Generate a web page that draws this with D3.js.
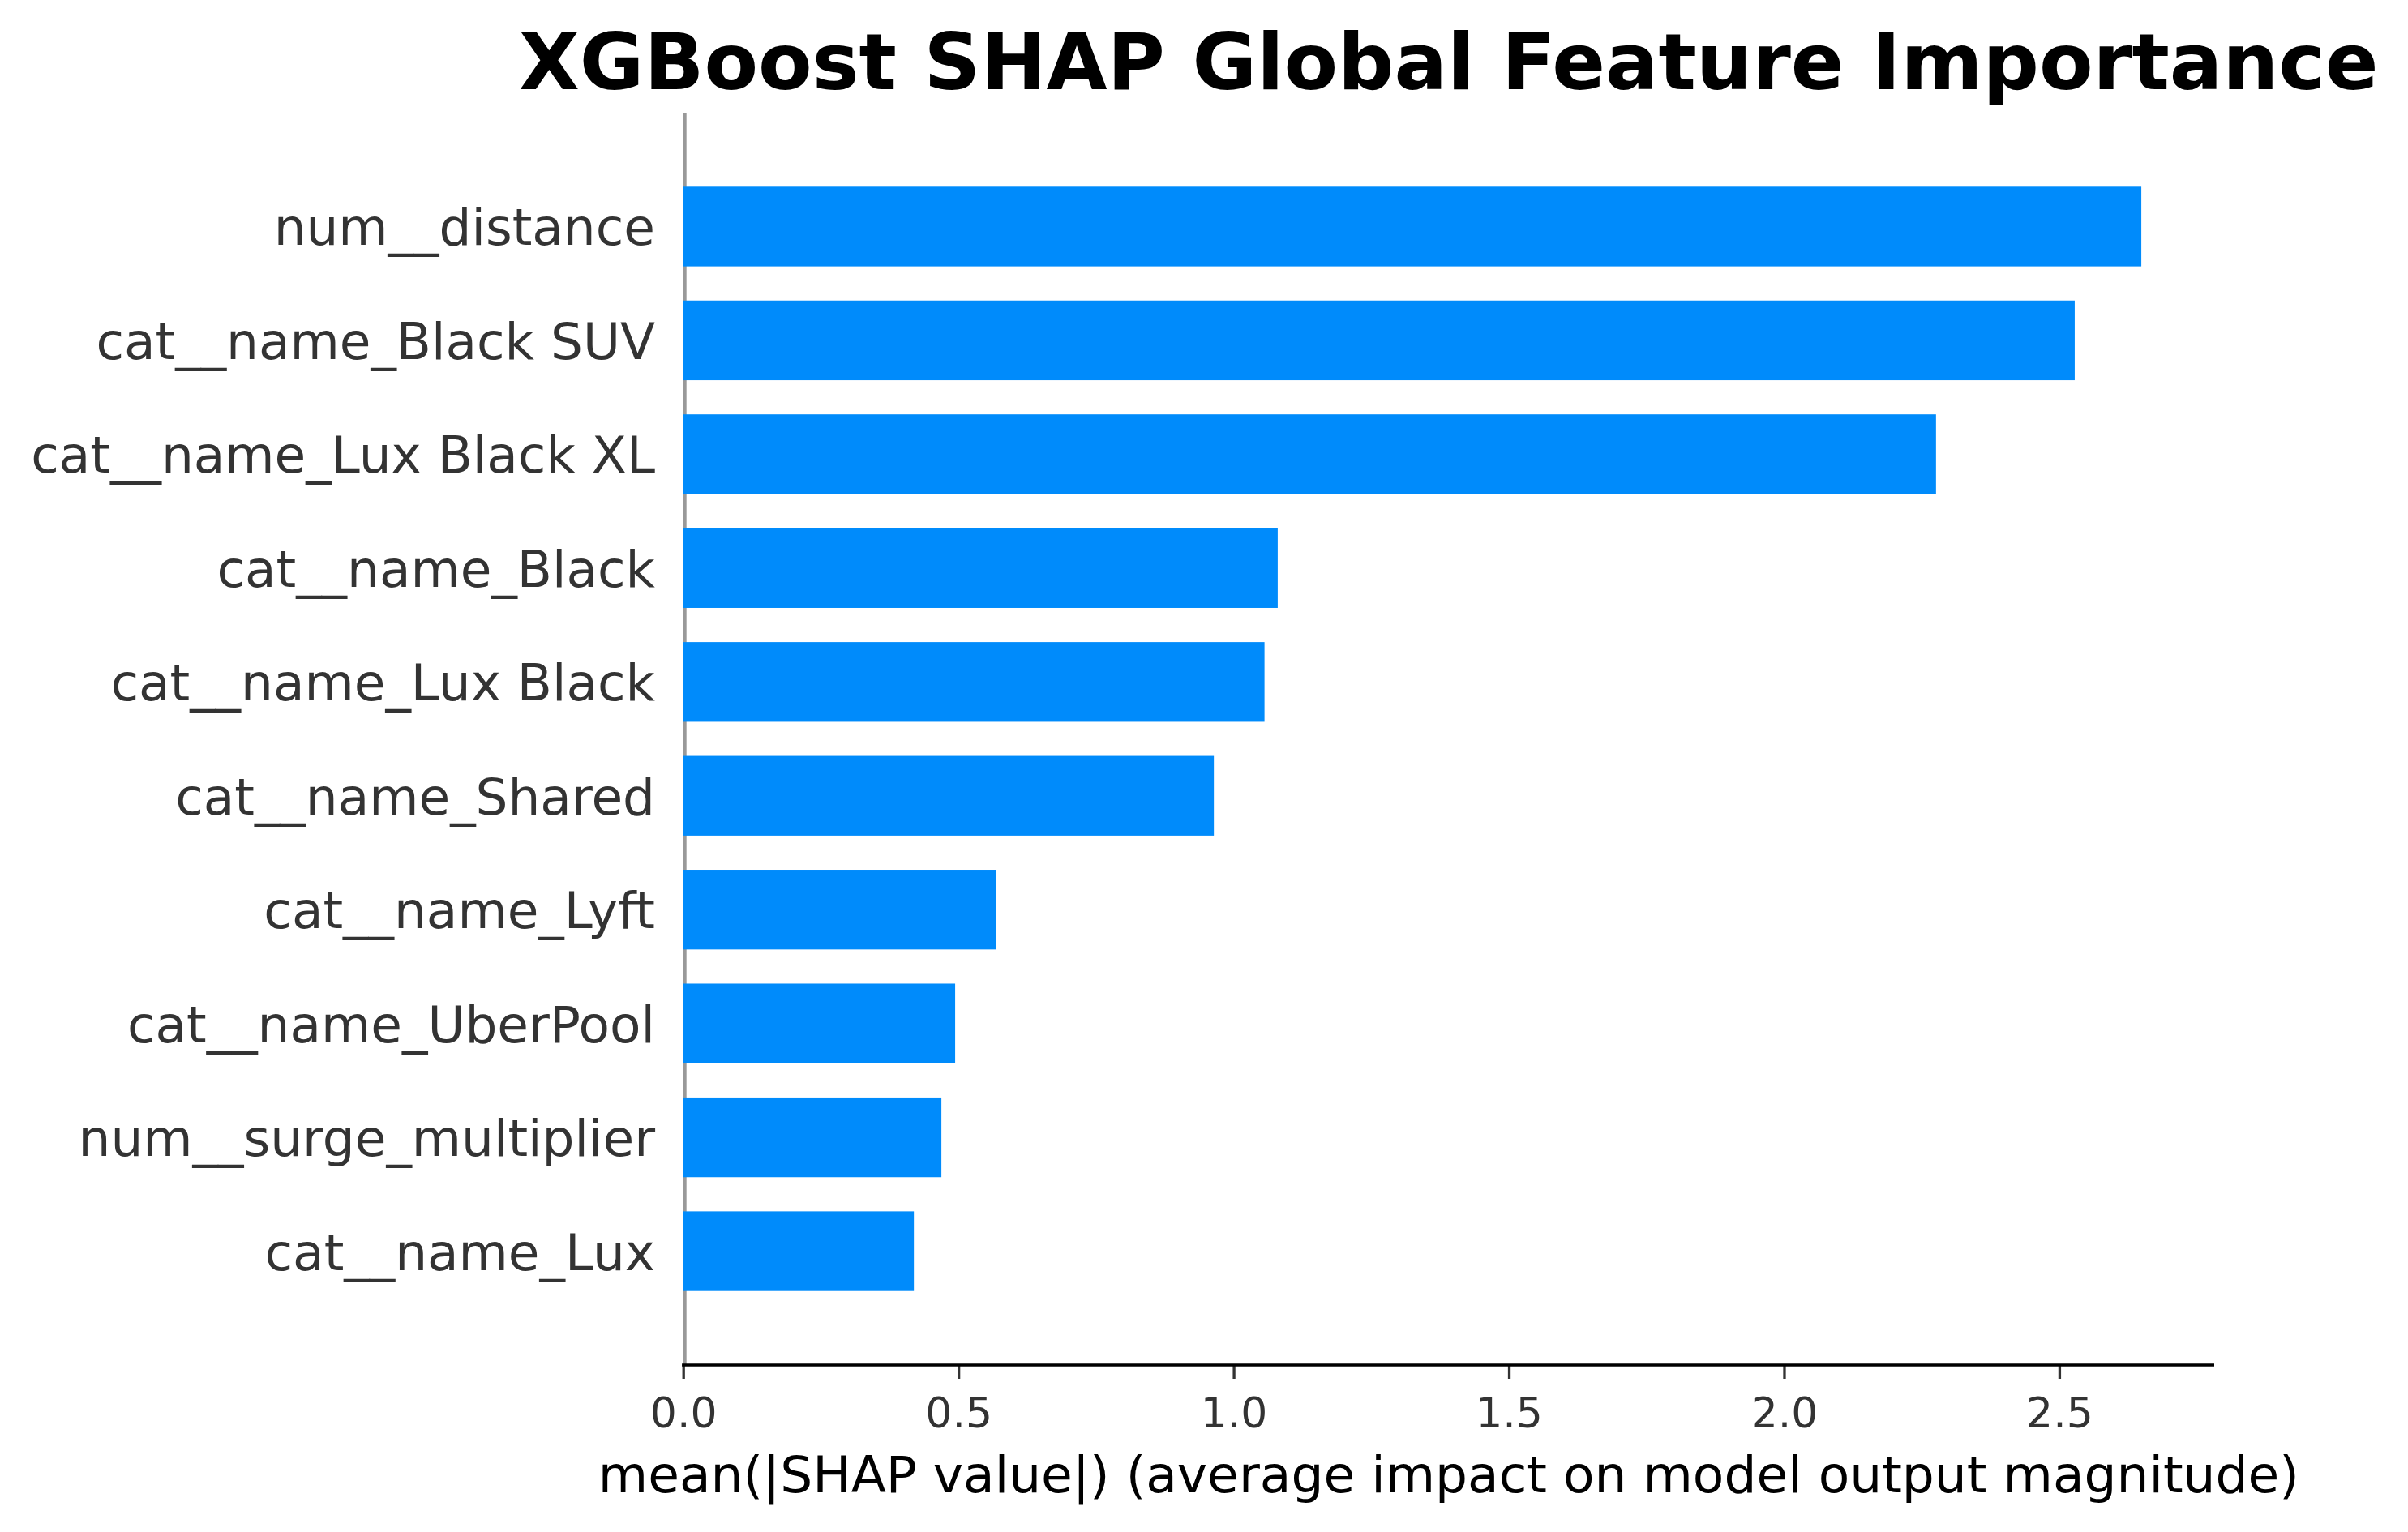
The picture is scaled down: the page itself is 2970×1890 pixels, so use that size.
<!DOCTYPE html>
<html>
<head>
<meta charset="utf-8">
<script src="https://cdn.jsdelivr.net/npm/d3@7"></script>
<style>
  html, body { margin: 0; padding: 0; background: #ffffff; }
  svg { display: block; }
  text { font-family: "DejaVu Sans", sans-serif; }
</style>
</head>
<body>
<svg id="chart" width="2970" height="1890"></svg>
<script>
const features = [
  "num__distance",
  "cat__name_Black SUV",
  "cat__name_Lux Black XL",
  "cat__name_Black",
  "cat__name_Lux Black",
  "cat__name_Shared",
  "cat__name_Lyft",
  "cat__name_UberPool",
  "num__surge_multiplier",
  "cat__name_Lux"
];
const meanAbsShap = [2.649, 2.528, 2.276, 1.080, 1.056, 0.964, 0.568, 0.494, 0.469, 0.419];
const xTickValues = [0.0, 0.5, 1.0, 1.5, 2.0, 2.5];
const titleText = "XGBoost SHAP Global Feature Importance";
const xLabelText = "mean(|SHAP value|) (average impact on model output magnitude)";

const svg = d3.select("#chart");
const plotLeft = 842.7, plotRight = 2731, plotTop = 139, plotBottom = 1684;

const x = d3.scaleLinear()
  .domain([0, d3.max(meanAbsShap) * 1.05])
  .range([plotLeft, plotRight]);

const y = d3.scaleLinear()
  .domain([-1, features.length])
  .range([plotTop, plotBottom]);

const barH = y(0.35) - y(-0.35);

// vertical zero line
svg.append("line")
  .attr("x1", x(0) + 2).attr("x2", x(0) + 2)
  .attr("y1", plotTop).attr("y2", plotBottom)
  .attr("stroke", "#999999").attr("stroke-width", 4);

// bars
svg.append("g").selectAll("rect")
  .data(meanAbsShap)
  .join("rect")
  .attr("x", x(0))
  .attr("y", (d, i) => y(i) - barH / 2)
  .attr("width", d => x(d) - x(0))
  .attr("height", barH)
  .attr("fill", "#008bfb");

// y labels
svg.append("g").selectAll("text")
  .data(features)
  .join("text")
  .attr("x", 808)
  .attr("y", (d, i) => y(i) + 23)
  .attr("text-anchor", "end")
  .attr("font-size", 62.9)
  .attr("fill", "#333333")
  .text(d => d);

// x axis
const xAxis = d3.axisBottom(x)
  .tickValues(xTickValues)
  .tickFormat(d3.format(".1f"))
  .tickSizeOuter(0)
  .tickSize(17)
  .tickPadding(20);

const gx = svg.append("g")
  .attr("transform", `translate(0,${plotBottom})`)
  .call(xAxis);
gx.select(".domain").remove();
gx.append("line")
  .attr("x1", plotLeft - 1.6).attr("x2", plotRight)
  .attr("y1", 0).attr("y2", 0)
  .attr("stroke", "#000000").attr("stroke-width", 3.3);
gx.selectAll(".tick line").attr("stroke", "#333333").attr("stroke-width", 3.3);
gx.selectAll(".tick text")
  .attr("font-size", 52)
  .attr("fill", "#333333")
  .attr("font-family", "DejaVu Sans")
  .attr("dy", null)
  .attr("y", 77);

// x label
svg.append("text")
  .attr("x", (plotLeft + plotRight) / 2)
  .attr("y", 1841)
  .attr("text-anchor", "middle")
  .attr("font-size", 63)
  .attr("fill", "#000000")
  .text(xLabelText);

// title
svg.append("text")
  .attr("x", (plotLeft + plotRight) / 2)
  .attr("y", 110)
  .attr("text-anchor", "middle")
  .attr("font-size", 97)
  .attr("font-weight", "bold")
  .attr("fill", "#000000")
  .text(titleText);
</script>
</body>
</html>
